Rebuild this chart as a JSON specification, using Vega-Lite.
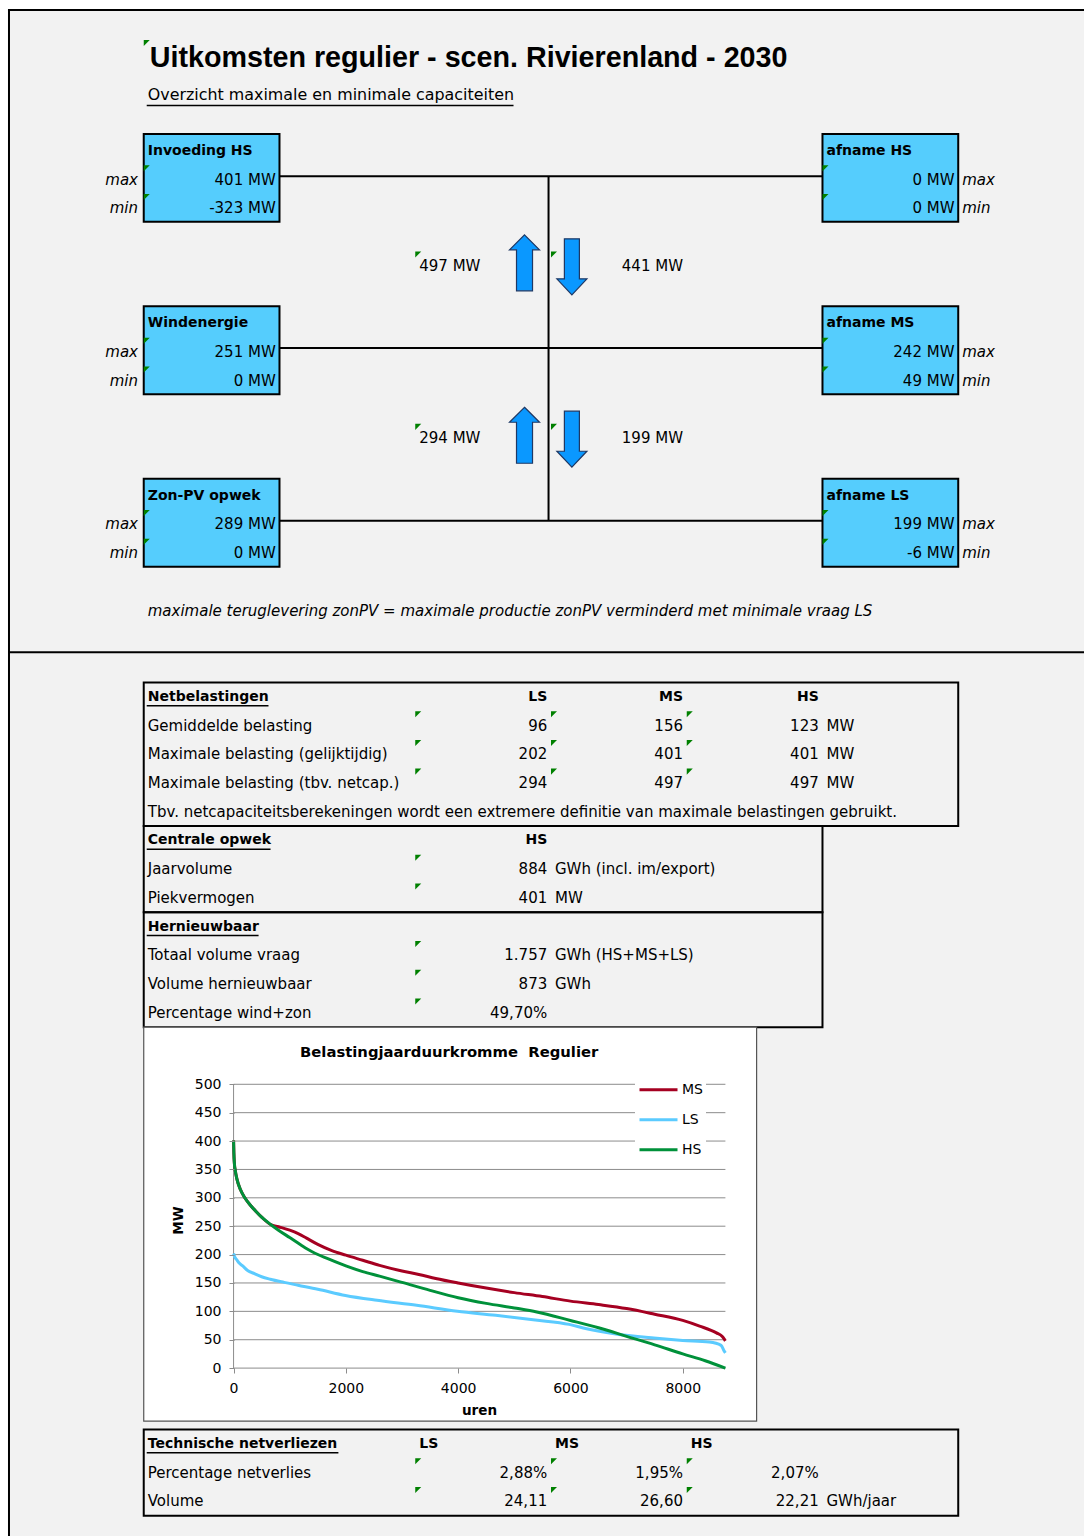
{
  "$schema": "https://vega.github.io/schema/vega-lite/v6.json",
  "width": 1086,
  "height": 1537,
  "autosize": {"type": "fit", "contains": "padding"},
  "padding": 0,
  "background": "white",
  "config": {"view": {"stroke": null}},
  "datasets": {
    "shapes": [
      {"kind": "page", "name": "Werkblad", "c": 0.0074, "c2": 7.9265, "r": 0.0957, "r2": 53.2087},
      {"kind": "node", "name": "Invoeding HS", "c": 1, "c2": 2, "r": 4.41, "r2": 7.47},
      {"kind": "node", "name": "Windenergie", "c": 1, "c2": 2, "r": 10.41, "r2": 13.47},
      {"kind": "node", "name": "Zon-PV opwek", "c": 1, "c2": 2, "r": 16.41, "r2": 19.47},
      {"kind": "node", "name": "afname HS", "c": 6, "c2": 7, "r": 4.41, "r2": 7.47},
      {"kind": "node", "name": "afname MS", "c": 6, "c2": 7, "r": 10.41, "r2": 13.47},
      {"kind": "node", "name": "afname LS", "c": 6, "c2": 7, "r": 16.41, "r2": 19.47},
      {"kind": "table", "name": "Netbelastingen", "c": 1, "c2": 7, "r": 23.5, "r2": 28.5},
      {"kind": "table", "name": "Centrale opwek", "c": 1, "c2": 6, "r": 28.5, "r2": 31.5},
      {"kind": "table", "name": "Hernieuwbaar", "c": 1, "c2": 6, "r": 31.5, "r2": 35.5},
      {"kind": "table", "name": "Technische netverliezen", "c": 1, "c2": 7, "r": 49.5, "r2": 52.5},
      {"kind": "chart", "name": "Belastingjaarduurkromme", "c": 1, "c2": 5.5147, "r": 35.5, "r2": 49.209}
    ],
    "lines": [
      {"kind": "frame", "c": 0, "c2": 7.9265, "r": 0.0957, "r2": 0.0957},
      {"kind": "frame", "c": 0.0074, "c2": 0.0074, "r": 0.0957, "r2": 53.2087},
      {"kind": "frame", "c": 0.0074, "c2": 7.9265, "r": 22.45, "r2": 22.45},
      {"kind": "link", "c": 2, "c2": 6, "r": 5.88, "r2": 5.88},
      {"kind": "link", "c": 2, "c2": 6, "r": 11.86, "r2": 11.86},
      {"kind": "link", "c": 2, "c2": 6, "r": 17.87, "r2": 17.87},
      {"kind": "link", "c": 3.982, "c2": 3.982, "r": 5.88, "r2": 17.87},
      {"kind": "underline", "c": 1.022, "c2": 3.724, "r": 3.42, "r2": 3.42},
      {"kind": "underline", "c": 1.022, "c2": 1.919, "r": 24.31, "r2": 24.31},
      {"kind": "underline", "c": 1.022, "c2": 1.934, "r": 29.31, "r2": 29.31},
      {"kind": "underline", "c": 1.022, "c2": 1.846, "r": 32.31, "r2": 32.31},
      {"kind": "underline", "c": 1.022, "c2": 2.434, "r": 50.31, "r2": 50.31}
    ],
    "arrows": [
      {"link": "HS-MS", "dir": "up", "mw": 497, "c": 3.805, "r": 8.896},
      {"link": "HS-MS", "dir": "down", "mw": 441, "c": 4.154, "r": 9.035},
      {"link": "MS-LS", "dir": "up", "mw": 294, "c": 3.805, "r": 14.896},
      {"link": "MS-LS", "dir": "down", "mw": 199, "c": 4.154, "r": 15.035}
    ],
    "flags": [
      {"c": 1, "r": 1.64},
      {"c": 1, "r": 6}, {"c": 1, "r": 7}, {"c": 6, "r": 6}, {"c": 6, "r": 7},
      {"c": 1, "r": 12}, {"c": 1, "r": 13}, {"c": 6, "r": 12}, {"c": 6, "r": 13},
      {"c": 1, "r": 18}, {"c": 1, "r": 19}, {"c": 6, "r": 18}, {"c": 6, "r": 19},
      {"c": 3, "r": 9}, {"c": 4, "r": 9}, {"c": 3, "r": 15}, {"c": 4, "r": 15},
      {"c": 3, "r": 25}, {"c": 4, "r": 25}, {"c": 5, "r": 25},
      {"c": 3, "r": 26}, {"c": 4, "r": 26}, {"c": 5, "r": 26},
      {"c": 3, "r": 27}, {"c": 4, "r": 27}, {"c": 5, "r": 27},
      {"c": 3, "r": 30}, {"c": 3, "r": 31}, {"c": 3, "r": 33}, {"c": 3, "r": 34}, {"c": 3, "r": 35},
      {"c": 3, "r": 51}, {"c": 4, "r": 51}, {"c": 5, "r": 51},
      {"c": 3, "r": 52}, {"c": 4, "r": 52}, {"c": 5, "r": 52}
    ],
    "cells": [
      {"c": 1, "r": 1.77, "kind": "title", "text": "Uitkomsten regulier - scen. Rivierenland - 2030"},
      {"c": 1, "r": 3.05, "kind": "subtitle", "text": "Overzicht maximale en minimale capaciteiten"},
      {"c": 1, "r": 5, "kind": "node", "text": "Invoeding HS"},
      {"c": 6, "r": 5, "kind": "node", "text": "afname HS"},
      {"c": 0, "r": 6, "kind": "tag", "text": "max"},
      {"c": 1, "r": 6, "kind": "value", "text": "401 MW"},
      {"c": 6, "r": 6, "kind": "value", "text": "0 MW"},
      {"c": 7, "r": 6, "kind": "tag", "text": "max"},
      {"c": 0, "r": 7, "kind": "tag", "text": "min"},
      {"c": 1, "r": 7, "kind": "value", "text": "-323 MW"},
      {"c": 6, "r": 7, "kind": "value", "text": "0 MW"},
      {"c": 7, "r": 7, "kind": "tag", "text": "min"},
      {"c": 3, "r": 9, "kind": "label", "text": "497 MW"},
      {"c": 4, "r": 9, "kind": "value", "text": "441 MW"},
      {"c": 1, "r": 11, "kind": "node", "text": "Windenergie"},
      {"c": 6, "r": 11, "kind": "node", "text": "afname MS"},
      {"c": 0, "r": 12, "kind": "tag", "text": "max"},
      {"c": 1, "r": 12, "kind": "value", "text": "251 MW"},
      {"c": 6, "r": 12, "kind": "value", "text": "242 MW"},
      {"c": 7, "r": 12, "kind": "tag", "text": "max"},
      {"c": 0, "r": 13, "kind": "tag", "text": "min"},
      {"c": 1, "r": 13, "kind": "value", "text": "0 MW"},
      {"c": 6, "r": 13, "kind": "value", "text": "49 MW"},
      {"c": 7, "r": 13, "kind": "tag", "text": "min"},
      {"c": 3, "r": 15, "kind": "label", "text": "294 MW"},
      {"c": 4, "r": 15, "kind": "value", "text": "199 MW"},
      {"c": 1, "r": 17, "kind": "node", "text": "Zon-PV opwek"},
      {"c": 6, "r": 17, "kind": "node", "text": "afname LS"},
      {"c": 0, "r": 18, "kind": "tag", "text": "max"},
      {"c": 1, "r": 18, "kind": "value", "text": "289 MW"},
      {"c": 6, "r": 18, "kind": "value", "text": "199 MW"},
      {"c": 7, "r": 18, "kind": "tag", "text": "max"},
      {"c": 0, "r": 19, "kind": "tag", "text": "min"},
      {"c": 1, "r": 19, "kind": "value", "text": "0 MW"},
      {"c": 6, "r": 19, "kind": "value", "text": "-6 MW"},
      {"c": 7, "r": 19, "kind": "tag", "text": "min"},
      {"c": 1, "r": 21, "kind": "note", "text": "maximale teruglevering zonPV = maximale productie zonPV verminderd met minimale vraag LS"},
      {"c": 1, "r": 24, "kind": "section", "text": "Netbelastingen"},
      {"c": 3, "r": 24, "kind": "colhead", "text": "LS"},
      {"c": 4, "r": 24, "kind": "colhead", "text": "MS"},
      {"c": 5, "r": 24, "kind": "colhead", "text": "HS"},
      {"c": 1, "r": 25, "kind": "label", "text": "Gemiddelde belasting"},
      {"c": 3, "r": 25, "kind": "value", "text": "96"},
      {"c": 4, "r": 25, "kind": "value", "text": "156"},
      {"c": 5, "r": 25, "kind": "value", "text": "123"},
      {"c": 6, "r": 25, "kind": "label", "text": "MW"},
      {"c": 1, "r": 26, "kind": "label", "text": "Maximale belasting (gelijktijdig)"},
      {"c": 3, "r": 26, "kind": "value", "text": "202"},
      {"c": 4, "r": 26, "kind": "value", "text": "401"},
      {"c": 5, "r": 26, "kind": "value", "text": "401"},
      {"c": 6, "r": 26, "kind": "label", "text": "MW"},
      {"c": 1, "r": 27, "kind": "label", "text": "Maximale belasting (tbv. netcap.)"},
      {"c": 3, "r": 27, "kind": "value", "text": "294"},
      {"c": 4, "r": 27, "kind": "value", "text": "497"},
      {"c": 5, "r": 27, "kind": "value", "text": "497"},
      {"c": 6, "r": 27, "kind": "label", "text": "MW"},
      {"c": 1, "r": 28, "kind": "label", "text": "Tbv. netcapaciteitsberekeningen wordt een extremere definitie van maximale belastingen gebruikt."},
      {"c": 1, "r": 29, "kind": "section", "text": "Centrale opwek"},
      {"c": 3, "r": 29, "kind": "colhead", "text": "HS"},
      {"c": 1, "r": 30, "kind": "label", "text": "Jaarvolume"},
      {"c": 3, "r": 30, "kind": "value", "text": "884"},
      {"c": 4, "r": 30, "kind": "label", "text": "GWh (incl. im/export)"},
      {"c": 1, "r": 31, "kind": "label", "text": "Piekvermogen"},
      {"c": 3, "r": 31, "kind": "value", "text": "401"},
      {"c": 4, "r": 31, "kind": "label", "text": "MW"},
      {"c": 1, "r": 32, "kind": "section", "text": "Hernieuwbaar"},
      {"c": 1, "r": 33, "kind": "label", "text": "Totaal volume vraag"},
      {"c": 3, "r": 33, "kind": "value", "text": "1.757"},
      {"c": 4, "r": 33, "kind": "label", "text": "GWh (HS+MS+LS)"},
      {"c": 1, "r": 34, "kind": "label", "text": "Volume hernieuwbaar"},
      {"c": 3, "r": 34, "kind": "value", "text": "873"},
      {"c": 4, "r": 34, "kind": "label", "text": "GWh"},
      {"c": 1, "r": 35, "kind": "label", "text": "Percentage wind+zon"},
      {"c": 3, "r": 35, "kind": "value", "text": "49,70%"},
      {"c": 3.25, "r": 36.4, "kind": "charttitle", "text": "Belastingjaarduurkromme\u00a0\u00a0Regulier"},
      {"c": 1, "r": 50, "kind": "section", "text": "Technische netverliezen"},
      {"c": 3, "r": 50, "kind": "colheadL", "text": "LS"},
      {"c": 4, "r": 50, "kind": "colheadL", "text": "MS"},
      {"c": 5, "r": 50, "kind": "colheadL", "text": "HS"},
      {"c": 1, "r": 51, "kind": "label", "text": "Percentage netverlies"},
      {"c": 3, "r": 51, "kind": "value", "text": "2,88%"},
      {"c": 4, "r": 51, "kind": "value", "text": "1,95%"},
      {"c": 5, "r": 51, "kind": "value", "text": "2,07%"},
      {"c": 1, "r": 52, "kind": "label", "text": "Volume"},
      {"c": 3, "r": 52, "kind": "value", "text": "24,11"},
      {"c": 4, "r": 52, "kind": "value", "text": "26,60"},
      {"c": 5, "r": 52, "kind": "value", "text": "22,21"},
      {"c": 6, "r": 52, "kind": "label", "text": "GWh/jaar"}
    ],
    "gridlines": [
      {"mw": 0}, {"mw": 50}, {"mw": 100}, {"mw": 150}, {"mw": 200}, {"mw": 250},
      {"mw": 300}, {"mw": 350}, {"mw": 400}, {"mw": 450}, {"mw": 500}
    ],
    "curves": [
      {"series": "MS", "h": 0, "mw": 401}, {"series": "MS", "h": 5, "mw": 380}, {"series": "MS", "h": 15, "mw": 360},
      {"series": "MS", "h": 30, "mw": 348}, {"series": "MS", "h": 60, "mw": 333}, {"series": "MS", "h": 120, "mw": 315},
      {"series": "MS", "h": 200, "mw": 300}, {"series": "MS", "h": 300, "mw": 287}, {"series": "MS", "h": 400, "mw": 276},
      {"series": "MS", "h": 500, "mw": 266}, {"series": "MS", "h": 660, "mw": 253}, {"series": "MS", "h": 800, "mw": 249},
      {"series": "MS", "h": 1000, "mw": 243}, {"series": "MS", "h": 1150, "mw": 237}, {"series": "MS", "h": 1300, "mw": 229},
      {"series": "MS", "h": 1500, "mw": 218}, {"series": "MS", "h": 1750, "mw": 207}, {"series": "MS", "h": 2000, "mw": 199},
      {"series": "MS", "h": 2300, "mw": 190}, {"series": "MS", "h": 2600, "mw": 181}, {"series": "MS", "h": 3000, "mw": 171},
      {"series": "MS", "h": 3300, "mw": 165}, {"series": "MS", "h": 3600, "mw": 158}, {"series": "MS", "h": 4000, "mw": 150},
      {"series": "MS", "h": 4500, "mw": 141}, {"series": "MS", "h": 5000, "mw": 133}, {"series": "MS", "h": 5500, "mw": 126},
      {"series": "MS", "h": 6000, "mw": 118}, {"series": "MS", "h": 6500, "mw": 112}, {"series": "MS", "h": 7000, "mw": 105},
      {"series": "MS", "h": 7500, "mw": 95}, {"series": "MS", "h": 8000, "mw": 84}, {"series": "MS", "h": 8300, "mw": 74},
      {"series": "MS", "h": 8600, "mw": 62}, {"series": "MS", "h": 8700, "mw": 56}, {"series": "MS", "h": 8740, "mw": 51},
      {"series": "MS", "h": 8760, "mw": 48},
      {"series": "LS", "h": 0, "mw": 202}, {"series": "LS", "h": 20, "mw": 196}, {"series": "LS", "h": 56, "mw": 191},
      {"series": "LS", "h": 100, "mw": 185}, {"series": "LS", "h": 162, "mw": 180}, {"series": "LS", "h": 250, "mw": 172},
      {"series": "LS", "h": 373, "mw": 166.5}, {"series": "LS", "h": 500, "mw": 161}, {"series": "LS", "h": 655, "mw": 156.5},
      {"series": "LS", "h": 900, "mw": 151}, {"series": "LS", "h": 1148, "mw": 146}, {"series": "LS", "h": 1500, "mw": 139},
      {"series": "LS", "h": 1993, "mw": 128}, {"series": "LS", "h": 2556, "mw": 119.4}, {"series": "LS", "h": 3261, "mw": 110.6},
      {"series": "LS", "h": 3986, "mw": 100}, {"series": "LS", "h": 4669, "mw": 93}, {"series": "LS", "h": 5373, "mw": 84.7},
      {"series": "LS", "h": 5979, "mw": 77}, {"series": "LS", "h": 6289, "mw": 69.4}, {"series": "LS", "h": 6782, "mw": 60.6},
      {"series": "LS", "h": 7486, "mw": 53}, {"series": "LS", "h": 8000, "mw": 48.8}, {"series": "LS", "h": 8472, "mw": 45.9},
      {"series": "LS", "h": 8683, "mw": 40}, {"series": "LS", "h": 8739, "mw": 30}, {"series": "LS", "h": 8760, "mw": 27},
      {"series": "HS", "h": 0, "mw": 401}, {"series": "HS", "h": 5, "mw": 380}, {"series": "HS", "h": 15, "mw": 360},
      {"series": "HS", "h": 30, "mw": 348}, {"series": "HS", "h": 60, "mw": 333}, {"series": "HS", "h": 120, "mw": 315},
      {"series": "HS", "h": 200, "mw": 300}, {"series": "HS", "h": 300, "mw": 287}, {"series": "HS", "h": 400, "mw": 276},
      {"series": "HS", "h": 500, "mw": 266}, {"series": "HS", "h": 660, "mw": 253}, {"series": "HS", "h": 800, "mw": 243},
      {"series": "HS", "h": 1000, "mw": 230}, {"series": "HS", "h": 1200, "mw": 217}, {"series": "HS", "h": 1400, "mw": 205},
      {"series": "HS", "h": 1700, "mw": 192}, {"series": "HS", "h": 2000, "mw": 180}, {"series": "HS", "h": 2300, "mw": 170},
      {"series": "HS", "h": 2600, "mw": 162}, {"series": "HS", "h": 3000, "mw": 151}, {"series": "HS", "h": 3500, "mw": 137},
      {"series": "HS", "h": 4000, "mw": 124}, {"series": "HS", "h": 4500, "mw": 114}, {"series": "HS", "h": 5000, "mw": 106},
      {"series": "HS", "h": 5400, "mw": 99}, {"series": "HS", "h": 6000, "mw": 84}, {"series": "HS", "h": 6500, "mw": 71},
      {"series": "HS", "h": 7000, "mw": 56}, {"series": "HS", "h": 7500, "mw": 41}, {"series": "HS", "h": 8000, "mw": 25},
      {"series": "HS", "h": 8400, "mw": 13}, {"series": "HS", "h": 8760, "mw": 0}
    ]
  },
  "layer": [
    {
      "encoding": {
        "x": {"field": "c", "type": "quantitative", "scale": {"domain": [-0.058824, 7.926471], "nice": false, "zero": false}, "axis": null},
        "y": {"field": "r", "type": "quantitative", "scale": {"domain": [-0.25217, 53.2087], "nice": false, "zero": false, "reverse": true}, "axis": null}
      },
      "layer": [
        {
          "data": {"name": "shapes"},
          "transform": [{"filter": "datum.kind === 'page'"}],
          "mark": {"type": "rect", "fill": "#f2f2f2"},
          "encoding": {"x2": {"field": "c2"}, "y2": {"field": "r2"}}
        },
        {
          "data": {"name": "lines"},
          "transform": [{"filter": "datum.kind !== 'underline'"}],
          "mark": {"type": "rule", "color": "black", "strokeWidth": 2},
          "encoding": {"x2": {"field": "c2"}, "y2": {"field": "r2"}}
        },
        {
          "data": {"name": "shapes"},
          "transform": [{"filter": "datum.kind === 'node'"}],
          "mark": {"type": "rect", "fill": "#55cdfd", "stroke": "black", "strokeWidth": 2},
          "encoding": {"x2": {"field": "c2"}, "y2": {"field": "r2"}}
        },
        {
          "data": {"name": "shapes"},
          "transform": [{"filter": "datum.kind === 'table'"}],
          "mark": {"type": "rect", "fill": null, "fillOpacity": 0, "stroke": "black", "strokeWidth": 2},
          "encoding": {"x2": {"field": "c2"}, "y2": {"field": "r2"}}
        },
        {
          "data": {"name": "shapes"},
          "transform": [{"filter": "datum.kind === 'chart'"}],
          "mark": {"type": "rect", "fill": "white", "stroke": "#555555", "strokeWidth": 1.2},
          "encoding": {"x2": {"field": "c2"}, "y2": {"field": "r2"}}
        },
        {
          "data": {"name": "arrows"},
          "transform": [{"filter": "datum.dir === 'up'"}],
          "mark": {"type": "point", "filled": true, "shape": "M0,-1 L0.536,-0.464 L0.286,-0.464 L0.286,1 L-0.286,1 L-0.286,-0.464 L-0.536,-0.464 Z", "size": 3136, "fill": "#0a98ff", "stroke": "#1f3864", "strokeWidth": 1.2, "opacity": 1}
        },
        {
          "data": {"name": "arrows"},
          "transform": [{"filter": "datum.dir === 'down'"}],
          "mark": {"type": "point", "filled": true, "shape": "M-0.268,-1 L0.268,-1 L0.268,0.429 L0.536,0.429 L0,1 L-0.536,0.429 L-0.268,0.429 Z", "size": 3136, "fill": "#0a98ff", "stroke": "#1f3864", "strokeWidth": 1.2, "opacity": 1}
        },
        {
          "data": {"name": "lines"},
          "transform": [{"filter": "datum.kind === 'underline'"}],
          "mark": {"type": "rule", "color": "black", "strokeWidth": 1.5},
          "encoding": {"x2": {"field": "c2"}, "y2": {"field": "r2"}}
        },
        {
          "data": {"name": "cells"},
          "transform": [{"filter": "datum.kind === 'title'"}],
          "mark": {"type": "text", "font": "Liberation Sans", "fontWeight": "bold", "fontSize": 28.7, "align": "left", "baseline": "middle", "dx": 6, "color": "black"},
          "encoding": {"text": {"field": "text"}}
        },
        {
          "data": {"name": "cells"},
          "transform": [{"filter": "datum.kind === 'subtitle'"}],
          "mark": {"type": "text", "font": "DejaVu Sans", "fontSize": 15.9, "align": "left", "baseline": "middle", "dx": 4, "color": "black"},
          "encoding": {"text": {"field": "text"}}
        },
        {
          "data": {"name": "cells"},
          "transform": [{"filter": "datum.kind === 'node' || datum.kind === 'section' || datum.kind === 'colheadL'"}],
          "mark": {"type": "text", "font": "DejaVu Sans", "fontWeight": "bold", "fontSize": 14, "align": "left", "baseline": "middle", "dx": 4, "color": "black"},
          "encoding": {"text": {"field": "text"}}
        },
        {
          "data": {"name": "cells"},
          "transform": [{"filter": "datum.kind === 'colhead'"}],
          "mark": {"type": "text", "font": "DejaVu Sans", "fontWeight": "bold", "fontSize": 14, "align": "right", "baseline": "middle", "dx": 132, "color": "black"},
          "encoding": {"text": {"field": "text"}}
        },
        {
          "data": {"name": "cells"},
          "transform": [{"filter": "datum.kind === 'charttitle'"}],
          "mark": {"type": "text", "font": "DejaVu Sans", "fontWeight": "bold", "fontSize": 14.8, "align": "center", "baseline": "middle", "color": "black"},
          "encoding": {"text": {"field": "text"}}
        },
        {
          "data": {"name": "cells"},
          "transform": [{"filter": "datum.kind === 'label'"}],
          "mark": {"type": "text", "font": "DejaVu Sans", "fontSize": 15, "align": "left", "baseline": "middle", "dx": 4, "color": "black"},
          "encoding": {"text": {"field": "text"}}
        },
        {
          "data": {"name": "cells"},
          "transform": [{"filter": "datum.kind === 'value'"}],
          "mark": {"type": "text", "font": "DejaVu Sans", "fontSize": 15, "align": "right", "baseline": "middle", "dx": 132, "color": "black"},
          "encoding": {"text": {"field": "text"}}
        },
        {
          "data": {"name": "cells"},
          "transform": [{"filter": "datum.kind === 'note' || (datum.kind === 'tag' && datum.c === 7)"}],
          "mark": {"type": "text", "font": "DejaVu Sans", "fontStyle": "italic", "fontSize": 15, "align": "left", "baseline": "middle", "dx": 4, "color": "black"},
          "encoding": {"text": {"field": "text"}}
        },
        {
          "data": {"name": "cells"},
          "transform": [{"filter": "datum.kind === 'tag' && datum.c === 0"}],
          "mark": {"type": "text", "font": "DejaVu Sans", "fontStyle": "italic", "fontSize": 15, "align": "right", "baseline": "middle", "dx": 130, "color": "black"},
          "encoding": {"text": {"field": "text"}}
        },
        {
          "data": {"name": "flags"},
          "mark": {"type": "point", "filled": true, "shape": "M0,-1 L0.42,-1 L0,-0.58 Z", "size": 826.6, "fill": "#008000", "strokeWidth": 0, "opacity": 1}
        }
      ]
    },
    {
      "layer": [
        {
          "data": {"name": "gridlines"},
          "mark": {"type": "rule", "color": "#8c8c8c", "strokeWidth": 1},
          "encoding": {
            "x": {
              "datum": 0, "type": "quantitative",
              "scale": {"domain": [-4160, 15146.667], "nice": false, "zero": false},
              "axis": {"orient": "bottom", "offset": -168, "zindex": 2, "values": [0, 2000, 4000, 6000, 8000], "format": "d", "domain": false, "grid": false, "ticks": true, "tickSize": 5, "tickColor": "#8c8c8c", "labelFont": "DejaVu Sans", "labelFontSize": 14, "labelColor": "black", "labelPadding": 8, "labelFlush": false, "labelOverlap": false, "title": "uren", "titleFont": "DejaVu Sans", "titleFontSize": 13.5, "titleFontWeight": "bold", "titleColor": "black", "titleX": 479, "titleY": 42, "titleAlign": "center", "titleBaseline": "middle"}
            },
            "x2": {"datum": 8760},
            "y": {
              "field": "mw", "type": "quantitative",
              "scale": {"domain": [-295.775, 2410.211], "nice": false, "zero": false},
              "axis": {"orient": "left", "offset": -234, "zindex": 2, "values": [0, 50, 100, 150, 200, 250, 300, 350, 400, 450, 500], "format": "d", "domain": false, "grid": false, "ticks": true, "tickSize": 5, "tickColor": "#8c8c8c", "labelFont": "DejaVu Sans", "labelFontSize": 14, "labelColor": "black", "labelPadding": 8, "labelOverlap": false, "title": "MW", "titleFont": "DejaVu Sans", "titleFontSize": 13.5, "titleFontWeight": "bold", "titleColor": "black", "titleAngle": 270, "titleX": -56, "titleY": 1220, "titleAlign": "center", "titleBaseline": "middle"}
            }
          }
        },
        {
          "data": {"values": [{"axis": "MW"}]},
          "mark": {"type": "rule", "color": "#8c8c8c", "strokeWidth": 1},
          "encoding": {
            "x": {"datum": 0, "type": "quantitative"},
            "y": {"datum": 0, "type": "quantitative"},
            "y2": {"datum": 500}
          }
        },
        {
          "data": {"name": "curves"},
          "transform": [{"filter": "datum.series === 'MS'"}],
          "mark": {"type": "line", "strokeWidth": 3, "interpolate": "monotone"},
          "encoding": {
            "x": {"field": "h", "type": "quantitative"},
            "y": {"field": "mw", "type": "quantitative"},
            "color": {
              "field": "series", "type": "nominal",
              "scale": {"domain": ["MS", "LS", "HS"], "range": ["#a50021", "#5bcbff", "#00913a"]},
              "legend": {"orient": "none", "legendX": 635, "legendY": 1072, "title": null, "symbolType": "stroke", "symbolSize": 1444, "symbolStrokeWidth": 3, "labelFont": "DejaVu Sans", "labelFontSize": 14, "labelColor": "black", "labelOffset": 3, "clipHeight": 29.5, "rowPadding": 0, "fillColor": "white", "padding": 3}
            }
          }
        },
        {
          "data": {"name": "curves"},
          "transform": [{"filter": "datum.series === 'LS'"}],
          "mark": {"type": "line", "strokeWidth": 3, "interpolate": "monotone"},
          "encoding": {
            "x": {"field": "h", "type": "quantitative"},
            "y": {"field": "mw", "type": "quantitative"},
            "color": {"field": "series", "type": "nominal"}
          }
        },
        {
          "data": {"name": "curves"},
          "transform": [{"filter": "datum.series === 'HS'"}],
          "mark": {"type": "line", "strokeWidth": 3, "interpolate": "monotone"},
          "encoding": {
            "x": {"field": "h", "type": "quantitative"},
            "y": {"field": "mw", "type": "quantitative"},
            "color": {"field": "series", "type": "nominal"}
          }
        }
      ]
    }
  ],
  "resolve": {
    "scale": {"x": "independent", "y": "independent", "color": "independent"},
    "axis": {"x": "independent", "y": "independent"}
  }
}
